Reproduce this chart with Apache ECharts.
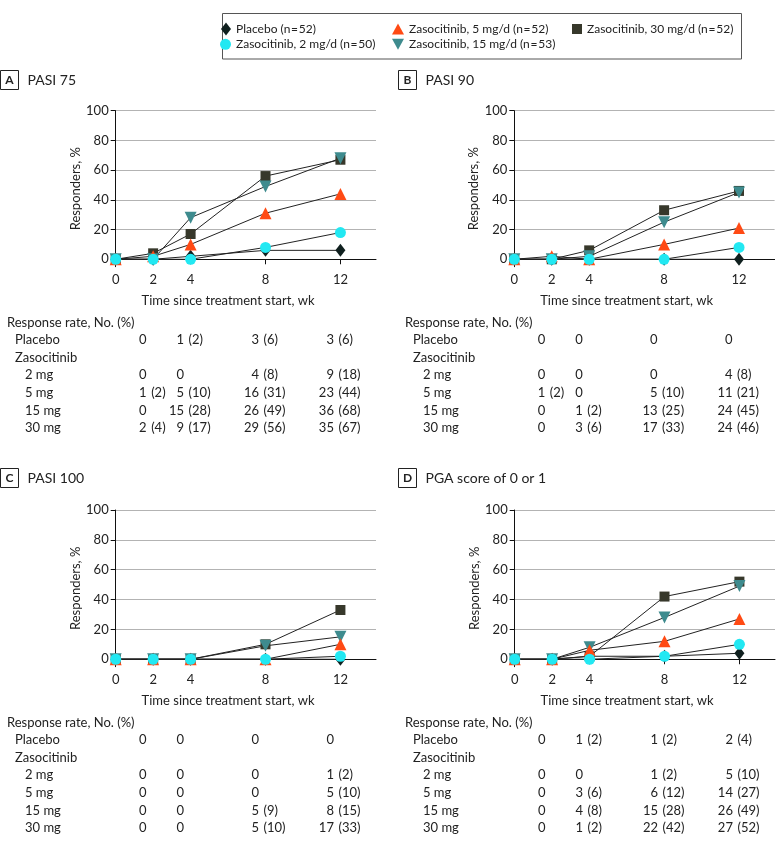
<!DOCTYPE html>
<html><head><meta charset="utf-8">
<script src="https://cdn.jsdelivr.net/npm/echarts@6/dist/echarts.min.js"></script>
<style>html,body{margin:0;padding:0;background:#fff}#c{width:780px;height:847px}</style>
</head><body><div id="c"></div>
<script>
// ---------- data ----------
const weeks = [0, 2, 4, 8, 12];
const tableWeeks = [2, 4, 8, 12];
const xTicks = [0, 2, 4, 8, 12];
const yTicks = [0, 20, 40, 60, 80, 100];
const groupNames = ['Placebo (n\u200A=\u200A52)', 'Zasocitinib, 2 mg/d (n\u200A=\u200A50)', 'Zasocitinib, 5 mg/d (n\u200A=\u200A52)', 'Zasocitinib, 15 mg/d (n\u200A=\u200A53)', 'Zasocitinib, 30 mg/d (n\u200A=\u200A52)'];
const rowLabels = ['Placebo', '2 mg', '5 mg', '15 mg', '30 mg'];
const panelLetters = ['A', 'B', 'C', 'D'];
const panelTitles = ['PASI 75', 'PASI 90', 'PASI 100', 'PGA score of 0 or 1'];
const xAxisName = 'Time since treatment start, wk';
const yAxisName = 'Responders, %';
const tableHeader = 'Response rate, No. (%)';
const tableSubHeader = 'Zasocitinib';

// responders, % at weeks 0,2,4,8,12 (rows: placebo, 2, 5, 15, 30 mg)
const pasi75Pct = [[0, 0, 2, 6, 6], [0, 0, 0, 8, 18], [0, 2, 10, 31, 44], [0, 0, 28, 49, 68], [0, 4, 17, 56, 67]];
const pasi90Pct = [[0, 0, 0, 0, 0], [0, 0, 0, 0, 8], [0, 2, 0, 10, 21], [0, 0, 2, 25, 45], [0, 0, 6, 33, 46]];
const pasi100Pct = [[0, 0, 0, 0, 0], [0, 0, 0, 0, 2], [0, 0, 0, 0, 10], [0, 0, 0, 9, 15], [0, 0, 0, 10, 33]];
const pgaPct = [[0, 0, 2, 2, 4], [0, 0, 0, 2, 10], [0, 0, 6, 12, 27], [0, 0, 8, 28, 49], [0, 0, 2, 42, 52]];
// responders, No. at weeks 2,4,8,12
const pasi75N = [[0, 1, 3, 3], [0, 0, 4, 9], [1, 5, 16, 23], [0, 15, 26, 36], [2, 9, 29, 35]];
const pasi90N = [[0, 0, 0, 0], [0, 0, 0, 4], [1, 0, 5, 11], [0, 1, 13, 24], [0, 3, 17, 24]];
const pasi100N = [[0, 0, 0, 0], [0, 0, 0, 1], [0, 0, 0, 5], [0, 0, 5, 8], [0, 0, 5, 17]];
const pgaN = [[0, 1, 1, 2], [0, 0, 1, 5], [0, 3, 6, 14], [0, 4, 15, 26], [0, 1, 22, 27]];

const panelPct = [pasi75Pct, pasi90Pct, pasi100Pct, pgaPct];
const panelN = [pasi75N, pasi90N, pasi100N, pgaN];

// ---------- style ----------
const FONT = 'Lato, "Liberation Sans", sans-serif';
const TXT = '#222';
const colors = ['#10201f', '#22e8f2', '#ff4a14', '#3e8b8e', '#37382b'];
const symbols = ['diamond', 'circle', 'triangle', 'triangle', 'rect'];
const symbolSizes = [[10, 13], 11, 12, 12, 10];
const symbolRotates = [0, 0, 0, 180, 0];
const legendIcons = ['diamond', 'circle', 'triangle', 'path://M0,0 L12,0 L6,11 Z', 'rect'];
const legendIconSize = [[10, 13], [11, 11], [12, 11], [12, 11], [10, 10]];
const legendTextStart = [[236, 29], [236, 44.3], [409, 29], [409, 44.3], [587, 29]];
const drawOrder = [0, 4, 3, 2, 1];

const grids = [
  { left: 115.7, top: 110.7, width: 260.3, height: 156 },
  { left: 514.3, top: 110.7, width: 260.3, height: 156 },
  { left: 115.7, top: 510, width: 260.3, height: 156.7 },
  { left: 514.7, top: 510, width: 260.3, height: 156.7 }
];

const xAxes = [], yAxes = [], series = [];
for (let p = 0; p < 4; p++) {
  xAxes.push({
    type: 'value', gridIndex: p, min: 0, max: 13.9,
    axisLine: { show: true, lineStyle: { color: '#111', width: 1 } },
    axisTick: { show: true, length: 5, customValues: xTicks, lineStyle: { color: '#111' } },
    axisLabel: { customValues: xTicks, margin: 7, color: TXT, fontSize: 13, fontFamily: FONT },
    splitLine: { show: false }
  });
  yAxes.push({
    type: 'value', gridIndex: p, min: -5, max: 100,
    name: yAxisName, nameLocation: 'middle', nameGap: 33,
    nameTextStyle: { color: TXT, fontSize: 13, fontFamily: FONT },
    axisLine: { show: true, lineStyle: { color: '#111', width: 1 } },
    axisTick: { show: true, length: 5, customValues: yTicks, lineStyle: { color: '#111' } },
    axisLabel: { customValues: yTicks, margin: 7, color: TXT, fontSize: 13, fontFamily: FONT },
    splitLine: { show: true, lineStyle: { color: '#b3b3b3', width: 1.2 } }
  });
  drawOrder.forEach(g => {
    series.push({
      type: 'line', name: groupNames[g], xAxisIndex: p, yAxisIndex: p,
      data: weeks.map((w, i) => [w, panelPct[p][g][i]]),
      symbol: symbols[g], symbolSize: symbolSizes[g], symbolRotate: symbolRotates[g],
      showAllSymbol: true, clip: false, animation: false,
      lineStyle: { color: '#222', width: 1 },
      itemStyle: { color: colors[g], borderWidth: 0 },
      emphasis: { disabled: true }
    });
  });
}

const legends = groupNames.map((n, g) => {
  const [w, h] = legendIconSize[g];
  const [tx, cy] = legendTextStart[g];
  return {
    data: [{ name: n, icon: legendIcons[g], itemStyle: { color: colors[g], borderWidth: 0 } }],
    left: tx - 5 - w, top: cy - Math.max(h, 12) / 2, itemWidth: w, itemHeight: h,
    selectedMode: false, padding: 0,
    itemStyle: { borderWidth: 0 }, lineStyle: { opacity: 0, width: 0 },
    textStyle: { color: TXT, fontSize: 12, fontFamily: FONT }
  };
});

const chart = echarts.init(document.getElementById('c'), null, { renderer: 'canvas' });
chart.setOption({
  animation: false,
  color: colors,
  grid: grids,
  xAxis: xAxes, yAxis: yAxes, series: series, legend: legends
});

// ---------- texts / table ----------
function txt(text, x, y, align, size, weight) {
  return { type: 'text', silent: true, style: { text: text, x: x, y: y, fill: TXT,
    font: (weight || 'normal') + ' ' + (size || 13) + 'px ' + FONT,
    textAlign: align || 'left', align: align || 'left', textVerticalAlign: 'middle', verticalAlign: 'middle' } };
}
const graphics = [];
graphics.push({ type: 'rect', silent: true, shape: { x: 222.5, y: 13.5, width: 519, height: 45.5 },
  style: { fill: 'none', stroke: '#555', lineWidth: 1 } });

const panelOrigin = [[0, 70], [398, 70], [0, 468], [398, 468]];
const tableLeft = [7, 405, 7, 405];
const tableTop = [322.5, 322.5, 722.5, 722.5];
const rowStep = 17.6;
for (let p = 0; p < 4; p++) {
  const [ox, oy] = panelOrigin[p];
  graphics.push({ type: 'rect', silent: true, shape: { x: ox + 0.5, y: oy + 0.5, width: 18, height: 19 },
    style: { fill: 'none', stroke: '#222', lineWidth: 1 } });
  graphics.push(txt(panelLetters[p], ox + 9.5, oy + 10.5, 'center', 12, 'bold'));
  graphics.push(txt(panelTitles[p], ox + 27.5, oy + 10.5, 'left', 14));
  // x axis name centered on 0..12 range
  const c0 = chart.convertToPixel({ gridIndex: p }, [0, 0]);
  const c12 = chart.convertToPixel({ gridIndex: p }, [12, 0]);
  const axisBottom = grids[p].top + grids[p].height;
  graphics.push(txt(xAxisName, (c0[0] + c12[0]) / 2, axisBottom + 34, 'center', 13));
  // table
  const L = tableLeft[p], T = tableTop[p];
  graphics.push(txt(tableHeader, L, T, 'left'));
  graphics.push(txt(rowLabels[0], L + 8, T + rowStep, 'left'));
  graphics.push(txt(tableSubHeader, L + 8, T + rowStep * 2, 'left'));
  for (let g = 1; g < 5; g++) graphics.push(txt(rowLabels[g], L + 18, T + rowStep * (g + 2), 'left'));
  for (let g = 0; g < 5; g++) {
    const ry = T + rowStep * (g === 0 ? 1 : g + 2);
    tableWeeks.forEach((w, k) => {
      const px = chart.convertToPixel({ gridIndex: p }, [w, 0])[0] - 6.5;
      const n = panelN[p][g][k];
      graphics.push(txt(String(n), px, ry, 'right'));
      if (n > 0) graphics.push(txt('(' + panelPct[p][g][k + 1] + ')', px + 4.5, ry, 'left'));
    });
  }
}
chart.setOption({ graphic: graphics });
</script></body></html>
